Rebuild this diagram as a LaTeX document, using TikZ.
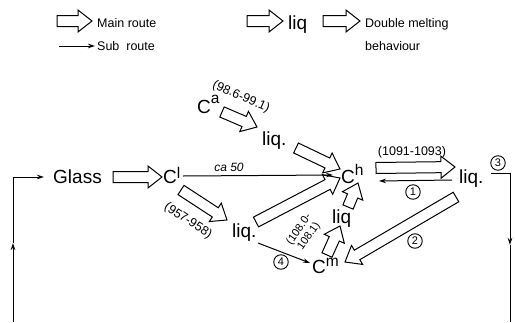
\documentclass[tikz,border=0pt]{standalone}
\usepackage{fontspec}
\setmainfont{Liberation Sans}
\usetikzlibrary{calc,arrows.meta}
\newcommand\hollowW{5.5pt}
\newcommand\hollowH{11pt}
\newcommand\hollowK{14pt}
\newcommand\harrow[2]{%
  \coordinate (hm) at ($(#2)!\hollowK!(#1)$);
  \draw[hollow] ($(#1)!\hollowW!90:(#2)$) -- ($(hm)!\hollowW!-90:(#1)$) -- ($(hm)!\hollowH!-90:(#1)$) -- (#2)
    -- ($(hm)!\hollowH!90:(#1)$) -- ($(hm)!\hollowW!90:(#1)$) -- ($(#1)!\hollowW!-90:(#2)$) -- cycle;}
\newcommand\Csup[2][0.42em]{C\raisebox{#1}{\fontsize{15.5}{15.5}\selectfont #2}}
\begin{document}
\begin{tikzpicture}[x=1pt,y=-1pt,
  big/.style={inner sep=0pt, anchor=base west, font=\fontsize{19}{19}\selectfont},
  leg/.style={inner sep=0pt, anchor=base west, font=\fontsize{12.5}{12.5}\selectfont},
  temp/.style={inner sep=0pt, font=\fontsize{12.5}{12.5}\selectfont},
  num/.style={circle, draw, line width=0.9pt, inner sep=0pt, minimum size=14.5pt, font=\fontsize{11}{11}\selectfont},
  sub/.style={line width=1pt, -{Stealth[length=7pt,width=4.5pt]}},
  plain/.style={line width=1pt},
  hollow/.style={line width=1pt, line join=miter, fill=white}]
\useasboundingbox (0,0) rectangle (515,322);

% ---------- legend ----------
\coordinate (l1s) at (57,21); \coordinate (l1e) at (92,21);
\harrow{l1s}{l1e}
\node[leg] (tmain) at (97,27) {Main route};
\coordinate (l2s) at (59,46); \coordinate (l2e) at (95,46);
\draw[sub] (l2s) -- (l2e);
\node[leg] (tsub) at (97,50) {Sub\ \ route};
\coordinate (l3s) at (247,21); \coordinate (l3e) at (283,21);
\harrow{l3s}{l3e}
\node[big] (tliq) at (288,29) {liq};
\coordinate (l4s) at (323,21); \coordinate (l4e) at (360,21);
\harrow{l4s}{l4e}
\node[leg] (tdm) at (365,27) {Double melting};
\node[leg] (tbeh) at (365,50) {behaviour};

% ---------- main nodes ----------
\node[big] (glass) at (53,183) {Glass};
\node[big] (cl) at (163,183) {\Csup[0.25em]{l}};
\node[big] (ca) at (197,113) {\Csup[0.5em]{a}};
\node[big] (liqa) at (262,145) {liq.};
\node[big] (ch) at (341,183) {\Csup[0.4em]{h}};
\node[big] (liqr) at (459,183) {liq.};
\node[big] (liqb) at (232,237) {liq.};
\node[big] (cm) at (312,273) {\Csup[0.35em]{m}};
\node[big] (liqs) at (332,223) {liq};

% ---------- labels ----------
\node[temp, font=\fontsize{12}{12}\selectfont\itshape] (ca50) at (229,167) {ca 50};
\node[temp, rotate=-24] (t986) at (241,97) {(98.6-99.1)};
\node[temp] (t1091) at (412,152) {(1091-1093)};
\node[temp, rotate=-33] (t957) at (188,221) {(957-958)};
\node[temp, rotate=55, align=center, font=\fontsize{11}{12}\selectfont] (t1080) at (304,233) {(108.0-\\108.1)};
\node[num] (n1) at (413,192) {1};
\node[num] (n2) at (415,241) {2};
\node[num] (n3) at (498,163) {3};
\node[num] (n4) at (281,262) {4};

% ---------- hollow (main) arrows ----------
\coordinate (g1) at (113,177); \coordinate (g2) at (162,177);
\harrow{g1}{g2}
\coordinate (a1) at (222,112); \coordinate (a2) at (257,127);
\harrow{a1}{a2}
\coordinate (b1) at (296,148); \coordinate (b2) at (340,169);
\harrow{b1}{b2}
\coordinate (c1) at (376,168); \coordinate (c2) at (455,167);
\harrow{c1}{c2}
\coordinate (d1) at (181,190); \coordinate (d2) at (227,220);
\harrow{d1}{d2}
\coordinate (e1) at (256,222); \coordinate (e2) at (340,178);
\harrow{e1}{e2}
\coordinate (f1) at (456,197); \coordinate (f2) at (345,262);
\harrow{f1}{f2}
\coordinate (m1) at (327,255); \coordinate (m2) at (340,226);
\harrow{m1}{m2}
\coordinate (s1) at (348,207); \coordinate (s2) at (358,183);
\harrow{s1}{s2}

% ---------- sub routes ----------
\coordinate (clo) at (183,176); \coordinate (chi) at (333,175);
\draw[sub] (clo) -- (chi);
\coordinate (ro) at (452,180); \coordinate (ri) at (379,181);
\draw[sub] (ro) -- (ri);
\coordinate (lbo) at (258,243); \coordinate (cmi) at (310,263);
\draw[sub] (lbo) -- (cmi);

% ---------- recycle loop ----------
\coordinate (r0) at (491,173); \coordinate (r1) at (510,173);
\coordinate (r2) at (510,245); \coordinate (r3) at (510,322);
\draw[plain] (r0) -- (r1);
\draw[sub] (r1) -- (r2);
\draw[plain] (r2) -- (r3);
\coordinate (q0) at (13,322); \coordinate (q1) at (13,243);
\coordinate (q2) at (13,177); \coordinate (q3) at (44,177);
\draw[sub] (q0) -- (q1);
\draw[plain] (q1) -- (q2);
\draw[sub] (q2) -- (q3);
\end{tikzpicture}
\end{document}
